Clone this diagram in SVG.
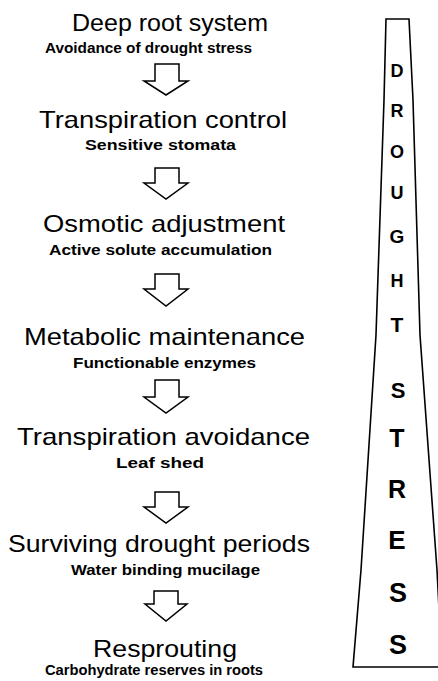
<svg xmlns="http://www.w3.org/2000/svg" width="438" height="681" viewBox="0 0 438 681">
<style>
.t{font-family:"Liberation Sans",Arial,sans-serif;font-size:24px;fill:#000}
.s{font-family:"Liberation Sans",Arial,sans-serif;font-size:14px;font-weight:bold;fill:#000}
.w{font-family:"Liberation Sans",Arial,sans-serif;font-weight:bold;fill:#000;text-anchor:middle}
.a{fill:#fff;stroke:#000;stroke-width:1.5;stroke-linejoin:miter}
</style>
<rect width="438" height="681" fill="#fff"/>
<g id="connectors">
<polygon class="a" points="155,64 179,64 179,81 188,81 166,95 144,81 155,81"/>
<polygon class="a" points="155,168 179,168 179,183 188,183 166,199 144,183 155,183"/>
<polygon class="a" points="155,274 179,274 179,289 188,289 166,306 144,289 155,289"/>
<polygon class="a" points="155,380 179,380 179,397 188,397 166,413 144,397 155,397"/>
<polygon class="a" points="155,492 179,492 179,507 188,507 166,523 144,507 155,507"/>
<polygon class="a" points="154,591 178,591 178,604 187,604 166,621 145,604 154,604"/>
</g>
<g id="node1"><text class="t" x="72" y="31" textLength="196" lengthAdjust="spacingAndGlyphs">Deep root system</text><text class="s" x="45" y="53" textLength="207" lengthAdjust="spacingAndGlyphs">Avoidance of drought stress</text></g>
<g id="node2"><text class="t" x="39" y="128" textLength="248" lengthAdjust="spacingAndGlyphs">Transpiration control</text><text class="s" x="85" y="150" textLength="151" lengthAdjust="spacingAndGlyphs">Sensitive stomata</text></g>
<g id="node3"><text class="t" x="43" y="232" textLength="242" lengthAdjust="spacingAndGlyphs">Osmotic adjustment</text><text class="s" x="49" y="255" textLength="223" lengthAdjust="spacingAndGlyphs">Active solute accumulation</text></g>
<g id="node4"><text class="t" x="24" y="345" textLength="281" lengthAdjust="spacingAndGlyphs">Metabolic maintenance</text><text class="s" x="73" y="368" textLength="183" lengthAdjust="spacingAndGlyphs">Functionable enzymes</text></g>
<g id="node5"><text class="t" x="17" y="445" textLength="293" lengthAdjust="spacingAndGlyphs">Transpiration avoidance</text><text class="s" x="116" y="468" textLength="88" lengthAdjust="spacingAndGlyphs">Leaf shed</text></g>
<g id="node6"><text class="t" x="8" y="552" textLength="302" lengthAdjust="spacingAndGlyphs">Surviving drought periods</text><text class="s" x="71" y="575" textLength="189" lengthAdjust="spacingAndGlyphs">Water binding mucilage</text></g>
<g id="node7"><text class="t" x="93" y="657" textLength="144" lengthAdjust="spacingAndGlyphs">Resprouting</text><text class="s" x="45" y="675" textLength="218" lengthAdjust="spacingAndGlyphs">Carbohydrate reserves in roots</text></g>
<g id="drought-stress">
<path d="M386,19 L409,19 L413,100 L420,335 L437,570 L442,667 L353,667 L361,570 L376,335 L384,100 Z" fill="#fff" stroke="#000" stroke-width="1.6" stroke-linejoin="miter"/>
<text class="w" x="397" y="77" font-size="18">D</text>
<text class="w" x="397" y="117" font-size="18">R</text>
<text class="w" x="397" y="158" font-size="18">O</text>
<text class="w" x="397" y="199" font-size="18">U</text>
<text class="w" x="397" y="243" font-size="19">G</text>
<text class="w" x="397" y="287" font-size="18">H</text>
<text class="w" x="397" y="332" font-size="21">T</text>
<text class="w" x="398" y="398" font-size="22">S</text>
<text class="w" x="397" y="447" font-size="25">T</text>
<text class="w" x="397" y="498" font-size="25">R</text>
<text class="w" x="397" y="549" font-size="26">E</text>
<text class="w" x="398" y="602" font-size="27">S</text>
<text class="w" x="398" y="654" font-size="27">S</text>
</g>
</svg>
